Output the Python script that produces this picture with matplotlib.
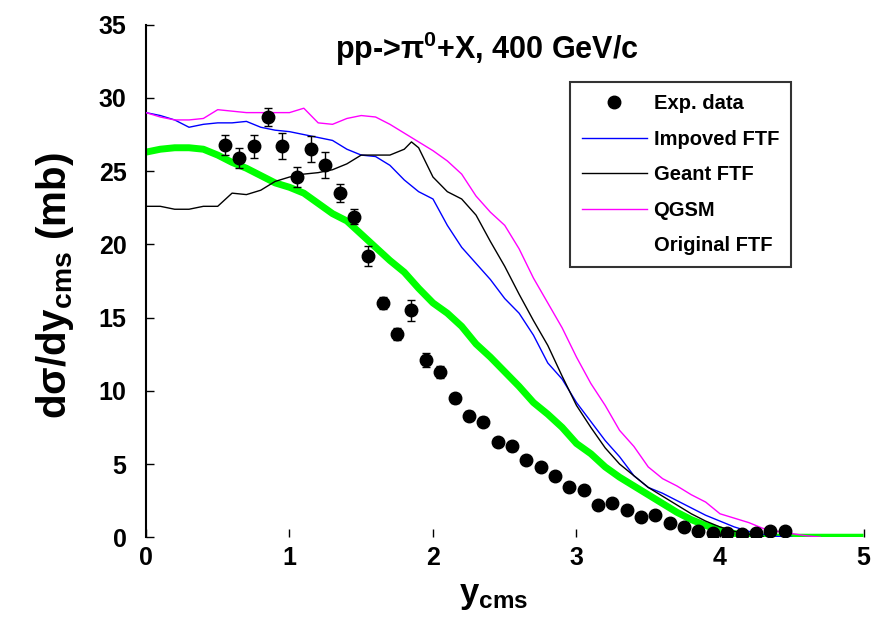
import matplotlib
matplotlib.use("Agg")
import matplotlib.pyplot as plt
from matplotlib.lines import Line2D

plt.rcParams['font.family'] = ['Liberation Sans', 'DejaVu Sans']
plt.rcParams['font.weight'] = 'bold'
plt.rcParams['mathtext.fontset'] = 'custom'
plt.rcParams['mathtext.rm'] = 'Liberation Sans:bold'
plt.rcParams['mathtext.it'] = 'Liberation Sans:bold'
plt.rcParams['mathtext.bf'] = 'Liberation Sans:bold'

# Experimental data
exp_x = [0.55, 0.65, 0.75, 0.85, 0.95, 1.05, 1.15, 1.25, 1.35, 1.45,
         1.55, 1.65, 1.75, 1.85, 1.95, 2.05, 2.15, 2.25, 2.35, 2.45,
         2.55, 2.65, 2.75, 2.85, 2.95, 3.05, 3.15, 3.25, 3.35, 3.45,
         3.55, 3.65, 3.75, 3.85, 3.95, 4.05, 4.15, 4.25, 4.35, 4.45]
exp_y = [26.8, 25.9, 26.7, 28.7, 26.7, 24.6, 26.5, 25.4, 23.5, 21.9,
         19.2, 16.0, 13.9, 15.5, 12.1, 11.3, 9.5, 8.3, 7.9, 6.5,
         6.2, 5.3, 4.8, 4.2, 3.4, 3.2, 2.2, 2.35, 1.85, 1.4,
         1.5, 0.95, 0.7, 0.4, 0.3, 0.3, 0.25, 0.3, 0.4, 0.4]
exp_err = [0.7, 0.7, 0.8, 0.6, 0.9, 0.7, 0.9, 0.9, 0.6, 0.5,
           0.7, 0.4, 0.4, 0.7, 0.5, 0.4, 0.3, 0.3, 0.3, 0.3,
           0.3, 0.2, 0.2, 0.2, 0.2, 0.2, 0.2, 0.2, 0.2, 0.1,
           0.1, 0.1, 0.1, 0.1, 0.1, 0.1, 0.1, 0.1, 0.1, 0.1]

# Original FTF (green)
orig_x = [0.0, 0.1, 0.2, 0.3, 0.4, 0.5, 0.6, 0.7, 0.8, 0.9, 1.0, 1.1, 1.2, 1.3,
          1.4, 1.5, 1.6, 1.7, 1.8, 1.9, 2.0, 2.1, 2.2, 2.3, 2.4, 2.5, 2.6, 2.7,
          2.8, 2.9, 3.0, 3.1, 3.2, 3.3, 3.4, 3.5, 3.6, 3.7, 3.8, 3.9, 4.0, 4.1,
          4.2, 4.3, 5.0]
orig_y = [26.3, 26.5, 26.6, 26.6, 26.5, 26.1, 25.6, 25.2, 24.7, 24.2, 23.9, 23.5,
          22.8, 22.1, 21.6, 20.7, 19.8, 18.9, 18.1, 17.0, 16.0, 15.3, 14.4, 13.2,
          12.3, 11.3, 10.3, 9.2, 8.4, 7.5, 6.4, 5.7, 4.8, 4.1, 3.5, 2.9, 2.3, 1.7,
          1.2, 0.8, 0.5, 0.25, 0.1, 0.0, 0.0]

# Improved FTF (blue)
imp_x = [0.0, 0.1, 0.2, 0.3, 0.4, 0.5, 0.6, 0.7, 0.8, 0.9, 1.0, 1.1, 1.2, 1.3,
         1.4, 1.5, 1.6, 1.7, 1.8, 1.9, 2.0, 2.1, 2.2, 2.3, 2.4, 2.5, 2.6, 2.7,
         2.8, 2.9, 3.0, 3.1, 3.2, 3.3, 3.4, 3.5, 3.6, 3.7, 3.8, 3.9, 4.0, 4.1,
         4.2, 4.3, 4.4, 4.5]
imp_y = [29.0, 28.8, 28.5, 28.0, 28.2, 28.3, 28.3, 28.4, 28.0, 27.8, 27.7, 27.5,
         27.3, 27.1, 26.5, 26.1, 26.0, 25.4, 24.4, 23.6, 23.1, 21.3, 19.8, 18.7,
         17.6, 16.3, 15.3, 13.8, 11.9, 10.8, 9.2, 7.9, 6.6, 5.5, 4.2, 3.4, 3.0,
         2.5, 2.0, 1.5, 1.1, 0.7, 0.4, 0.2, 0.05, 0.0]

# Geant FTF (black)
geant_x = [0.0, 0.1, 0.2, 0.3, 0.4, 0.5, 0.6, 0.7, 0.8, 0.9, 1.0, 1.1, 1.2, 1.3,
           1.4, 1.5, 1.6, 1.7, 1.8, 1.85, 1.9, 2.0, 2.1, 2.2, 2.3, 2.4, 2.5, 2.6,
           2.7, 2.8, 2.9, 3.0, 3.1, 3.2, 3.3, 3.4, 3.5, 3.6, 3.7, 3.8, 3.9, 4.0,
           4.1, 4.2, 4.3]
geant_y = [22.6, 22.6, 22.4, 22.4, 22.6, 22.6, 23.5, 23.4, 23.7, 24.3, 24.6, 24.8,
           24.9, 25.1, 25.5, 26.1, 26.1, 26.1, 26.5, 27.0, 26.6, 24.6, 23.6, 23.1,
           22.0, 20.2, 18.5, 16.6, 14.8, 13.1, 11.0, 9.0, 7.5, 6.1, 5.0, 4.2, 3.4,
           2.8, 2.2, 1.6, 1.1, 0.7, 0.4, 0.2, 0.05]

# QGSM (magenta)
qgsm_x = [0.0, 0.1, 0.2, 0.3, 0.4, 0.5, 0.6, 0.7, 0.8, 0.9, 1.0, 1.1, 1.2, 1.3,
          1.4, 1.5, 1.6, 1.7, 1.8, 1.9, 2.0, 2.1, 2.2, 2.3, 2.4, 2.5, 2.6, 2.7,
          2.8, 2.9, 3.0, 3.1, 3.2, 3.3, 3.4, 3.5, 3.6, 3.7, 3.8, 3.9, 4.0, 4.1,
          4.2, 4.3, 4.4, 4.5, 4.6, 4.7]
qgsm_y = [29.0, 28.7, 28.5, 28.5, 28.6, 29.2, 29.1, 29.0, 29.0, 29.0, 29.0, 29.3,
          28.3, 28.2, 28.6, 28.8, 28.7, 28.2, 27.6, 27.0, 26.4, 25.7, 24.8, 23.3,
          22.2, 21.3, 19.7, 17.7, 16.0, 14.3, 12.3, 10.5, 9.0, 7.3, 6.2, 4.8, 4.0,
          3.5, 2.9, 2.4, 1.6, 1.3, 1.0, 0.6, 0.4, 0.25, 0.1, 0.0]

x_ticks = [0, 1, 2, 3, 4, 5]
y_ticks = [0, 5, 10, 15, 20, 25, 30, 35]

fig = plt.figure(figsize=(8.74, 6.35), dpi=100)
ax = fig.add_axes([0.167, 0.154, 0.821, 0.807])

ax.plot(orig_x, orig_y, color='#00ff00', lw=5.0, solid_capstyle='butt', zorder=2)
h_imp, = ax.plot(imp_x, imp_y, color='#0000ff', lw=1.0, zorder=3)
h_geant, = ax.plot(geant_x, geant_y, color='black', lw=1.0, zorder=3)
h_qgsm, = ax.plot(qgsm_x, qgsm_y, color='#ff00ff', lw=1.0, zorder=3)
ax.errorbar(exp_x, exp_y, yerr=exp_err, fmt='o', color='black', ms=9,
            capsize=3, elinewidth=1, capthick=1, zorder=4)

ax.set_xlim(0, 5)
ax.set_ylim(0, 35)
ax.set_xticks(x_ticks)
ax.set_yticks(y_ticks)
ax.tick_params(direction='in', length=6, width=1, labelsize=18)
ax.tick_params(axis='x', pad=6)
ax.tick_params(axis='y', pad=14)
for s in ['top', 'right', 'bottom']:
    ax.spines[s].set_visible(False)
ax.spines['left'].set_linewidth(1.5)

ax.set_xlabel('y$_{\\mathrm{cms}}$', fontsize=25, fontweight='bold')
ax.xaxis.set_label_coords(0.485, -0.082)
ax.set_ylabel('dσ/dy$_{\\mathrm{cms}}$ (mb)', fontsize=29, fontweight='bold')
ax.yaxis.set_label_coords(-0.097, 0.49)

ax.text(0.475, 0.953, 'pp->π$^{\\mathrm{0}}$+X, 400 GeV/c', transform=ax.transAxes,
        ha='center', va='center', fontsize=22, fontweight='bold')

h_exp = Line2D([], [], marker='o', color='black', ls='none', ms=9)
h_orig = Line2D([], [], color='none')
order = ['Exp. data', 'Impoved FTF', 'Geant FTF', 'QGSM', 'Original FTF']
leg = ax.legend([h_exp, h_imp, h_geant, h_qgsm, h_orig], order, loc='upper left',
                bbox_to_anchor=(0.591, 0.888), fontsize=14.5, frameon=True,
                fancybox=False, edgecolor='black', handlelength=3.2,
                labelspacing=0.82, borderpad=0.6, handletextpad=0.35,
                borderaxespad=0)
leg.get_frame().set_linewidth(1.5)
for t in leg.get_texts():
    t.set_fontweight('bold')

fig.savefig('out.png', dpi=100)
